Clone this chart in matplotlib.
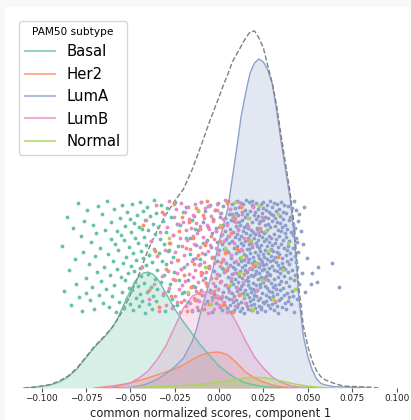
import matplotlib.pyplot as plt
from matplotlib.lines import Line2D
from matplotlib.patches import Rectangle

subtypes = ['Basal', 'Her2', 'LumA', 'LumB', 'Normal']
colors = ['#66c2a5', '#fc8d62', '#8da0cb', '#e78ac3', '#a6d854']

# ---- density curves (y axis is hidden, arbitrary units) ----
basal_kx = [-0.110, -0.105, -0.100, -0.095, -0.090, -0.085, -0.080, -0.075, -0.070, -0.065,
            -0.0625, -0.060, -0.0575, -0.055, -0.0525, -0.050, -0.0475, -0.045, -0.0425, -0.040,
            -0.0375, -0.035, -0.0325, -0.030, -0.0275, -0.025, -0.020, -0.015, -0.010, -0.005,
            0.000, 0.005, 0.010, 0.015, 0.020, 0.025, 0.030, 0.035, 0.040]
basal_kd = [0, 0.5, 1.5, 3, 6, 11, 19, 30, 41, 50,
            55, 61, 68, 78, 88, 97, 106, 112, 115, 116,
            114, 110, 103, 95, 87, 79, 66, 54, 42, 32,
            22, 15, 9, 5, 3, 1.5, 0.7, 0.2, 0]

her2_kx = [-0.070, -0.065, -0.060, -0.055, -0.050, -0.045, -0.040, -0.035, -0.030, -0.025,
           -0.020, -0.015, -0.010, -0.005, 0.000, 0.005, 0.010, 0.015, 0.020, 0.025,
           0.030, 0.035, 0.040, 0.045]
her2_kd = [0, 1, 2, 3.5, 5, 7.5, 10, 13, 16, 19,
           23, 28.5, 33, 35.5, 36, 33, 25, 16, 10, 6,
           3, 1.3, 0.5, 0]

luma_kx = [-0.060, -0.055, -0.050, -0.045, -0.040, -0.035, -0.030, -0.025, -0.020, -0.015,
           -0.0125, -0.010, -0.0075, -0.005, -0.0025, 0.000, 0.0025, 0.005, 0.0075, 0.010,
           0.0125, 0.015, 0.0175, 0.020, 0.0225, 0.025, 0.0275, 0.030, 0.0325, 0.035,
           0.0375, 0.040, 0.0425, 0.045, 0.0475, 0.050, 0.0525, 0.055, 0.0575, 0.060,
           0.065, 0.070, 0.075, 0.080, 0.085]
luma_kd = [0, 0.3, 0.8, 2, 4.5, 8.5, 14, 21, 30, 47,
           60, 78, 93, 108, 126, 146, 163, 180, 210, 240,
           272, 295, 315, 325, 329, 326, 318, 304, 277, 246,
           218, 190, 150, 90, 52, 32, 18, 9, 4.5, 3,
           1.3, 1, 0.7, 0.3, 0]

lumb_kx = [-0.070, -0.065, -0.060, -0.055, -0.050, -0.045, -0.040, -0.035, -0.030, -0.025,
           -0.020, -0.015, -0.010, -0.005, 0.000, 0.005, 0.010, 0.015, 0.020, 0.025,
           0.030, 0.035, 0.040, 0.045, 0.050, 0.055]
lumb_kd = [0, 0.5, 1, 2.5, 5, 10, 17, 28, 42, 61,
           80, 92, 96, 96, 92, 80, 65, 47, 31, 20,
           11, 5.5, 2.5, 1, 0.3, 0]

normal_kx = [-0.055, -0.050, -0.045, -0.040, -0.035, -0.030, -0.025, -0.020, -0.015, -0.010,
             -0.005, 0.000, 0.005, 0.010, 0.015, 0.020, 0.025, 0.030, 0.035, 0.040,
             0.045, 0.050, 0.055, 0.060, 0.065]
normal_kd = [0, 0.3, 0.6, 1, 1.3, 1.7, 2, 2.5, 3, 3.8,
             4.7, 5.8, 7.2, 8.6, 10, 10.7, 10.3, 9, 7, 5,
             3.2, 1.8, 1, 0.3, 0]

all_kx = [-0.110, -0.105, -0.100, -0.095, -0.090, -0.085, -0.080, -0.075, -0.070, -0.065,
          -0.060, -0.055, -0.050, -0.045, -0.040, -0.035, -0.030, -0.025, -0.020, -0.015,
          -0.010, -0.005, 0.000, 0.0025, 0.005, 0.0075, 0.010, 0.0125, 0.015, 0.0175,
          0.020, 0.0225, 0.025, 0.0275, 0.030, 0.0325, 0.035, 0.0375, 0.040, 0.0425,
          0.045, 0.0475, 0.050, 0.0525, 0.055, 0.0575, 0.060, 0.065, 0.070, 0.075,
          0.080, 0.085, 0.090]
all_kd = [0, 0.8, 2, 3.5, 7, 12, 20, 31, 42, 51,
          61, 75, 93, 114, 138, 157, 173, 187, 199, 219,
          243, 268, 291, 303, 314, 326, 334, 342, 350, 356,
          357, 350, 340, 322, 305, 282, 252, 224, 196, 160,
          100, 62, 42, 27, 17, 11, 8, 4.5, 2, 1.5,
          1.2, 0.8, 0]

# ---- samples: score (x) and vertical jitter (y) ----
basal_x = [-0.0887, -0.0872, -0.0856,
           -0.0846, -0.0835, -0.0823, -0.0814, -0.0803,
           -0.0797, -0.0789, -0.0778, -0.0771, -0.0765, -0.0758, -0.0752,
           -0.0748, -0.0741, -0.0735, -0.0729, -0.0722, -0.0716, -0.0709, -0.0703,
           -0.0698, -0.0693, -0.0687, -0.0681, -0.0674, -0.0668, -0.0663, -0.0657, -0.0652,
           -0.0648, -0.0644, -0.0639, -0.0633, -0.0628, -0.0622, -0.0617, -0.0611, -0.0606, -0.0602,
           -0.0598, -0.0594, -0.0590, -0.0585, -0.0581, -0.0576, -0.0572, -0.0567, -0.0563, -0.0558,
           -0.0554, -0.0551,
           -0.0548, -0.0545, -0.0541, -0.0538, -0.0534, -0.0531, -0.0527, -0.0524, -0.0520, -0.0517,
           -0.0513, -0.0510, -0.0507, -0.0504, -0.0501,
           -0.0498, -0.0495, -0.0492, -0.0489, -0.0486, -0.0483, -0.0480, -0.0477, -0.0474, -0.0471,
           -0.0468, -0.0465, -0.0462, -0.0459, -0.0456, -0.0453, -0.0451,
           -0.0448, -0.0445, -0.0443, -0.0440, -0.0437, -0.0434, -0.0432, -0.0429, -0.0426, -0.0423,
           -0.0420, -0.0418, -0.0415, -0.0412, -0.0409, -0.0406, -0.0404, -0.0401,
           -0.0398, -0.0395, -0.0392, -0.0389, -0.0386, -0.0383, -0.0380, -0.0377, -0.0374, -0.0371,
           -0.0368, -0.0365, -0.0362, -0.0359, -0.0356, -0.0353, -0.0351,
           -0.0347, -0.0343, -0.0340, -0.0336, -0.0333, -0.0329, -0.0326, -0.0322, -0.0318, -0.0315,
           -0.0311, -0.0308, -0.0304, -0.0301,
           -0.0297, -0.0292, -0.0287, -0.0282, -0.0277, -0.0272, -0.0267, -0.0262, -0.0257, -0.0252,
           -0.0246, -0.0239, -0.0232, -0.0225, -0.0218, -0.0211, -0.0204,
           -0.0195, -0.0185, -0.0175, -0.0165, -0.0155,
           -0.0146, -0.0134, -0.0121, -0.0108,
           -0.0093, -0.0077, -0.0061,
           -0.0042, -0.0015,
           0.0024, 0.0071]
basal_y = [142, 97, 171, 118, 83, 160, 129, 104, 185, 91,
           152, 77, 136, 167, 110, 95, 178, 124, 88, 146,
           101, 163, 79, 132, 155, 116, 182, 93, 140, 107,
           174, 85, 121, 158, 99, 187, 134, 81, 113, 149,
           166, 92, 127, 179, 103, 144, 76, 157, 119, 138,
           86, 170, 111, 153, 96, 183, 125, 80, 148, 108,
           162, 131, 89, 176, 115, 100, 141, 169, 84, 122,
           156, 98, 184, 135, 78, 117, 165, 106, 150, 90,
           128, 173, 102, 145, 82, 161, 120, 186, 94, 137,
           112, 159, 87, 130, 177, 105, 151, 75, 168, 123,
           143, 96, 181, 114, 158, 84, 133, 172, 101, 147,
           79, 126, 164, 92, 139, 188, 109, 154, 87, 175,
           118, 99, 161, 135, 81, 149, 106, 183, 127, 93,
           167, 113, 144, 77, 156, 124, 180, 97, 138, 104,
           171, 89, 131, 153, 116, 186, 83, 142, 108, 163,
           95, 176, 121, 150, 86, 134, 168, 102, 159, 78,
           129, 145, 110, 182, 91, 157, 119, 174]

her2_x = [-0.0428, -0.0392, -0.0361,
          -0.0338, -0.0319, -0.0301, -0.0284, -0.0268, -0.0253,
          -0.0246, -0.0236, -0.0226, -0.0216, -0.0207, -0.0198, -0.0188, -0.0178, -0.0168, -0.0157,
          -0.0148, -0.0141, -0.0135, -0.0128, -0.0121, -0.0114, -0.0108, -0.0101, -0.0094, -0.0088,
          -0.0081, -0.0075, -0.0068, -0.0061, -0.0054,
          -0.0047, -0.0040, -0.0033, -0.0026, -0.0019, -0.0012, -0.0005, 0.0003, 0.0010, 0.0017,
          0.0024, 0.0031, 0.0038, 0.0045,
          0.0054, 0.0066, 0.0078, 0.0089, 0.0101, 0.0113, 0.0126, 0.0139,
          0.0163, 0.0192, 0.0231, 0.0332]
her2_y = [163, 98, 137, 81, 176, 119, 145, 92, 184, 108,
          128, 157, 86, 171, 113, 140, 77, 166, 101, 150,
          124, 88, 180, 133, 95, 159, 116, 79, 173, 143,
          105, 187, 121, 84, 152, 130, 168, 97, 110, 178,
          90, 147, 126, 161, 83, 135, 118, 185, 102, 155,
          76, 170, 139, 93, 181, 114, 148, 123, 160, 131]

luma_x = [-0.0285, -0.0262, -0.0238, -0.0214,
          -0.0196, -0.0186, -0.0175, -0.0165, -0.0154,
          -0.0147, -0.0141, -0.0135, -0.0128, -0.0122, -0.0116, -0.0109, -0.0103,
          -0.0098, -0.0094, -0.0090, -0.0086, -0.0081, -0.0077, -0.0073, -0.0069, -0.0065, -0.0060,
          -0.0056, -0.0052,
          -0.0049, -0.0046, -0.0043, -0.0040, -0.0038, -0.0035, -0.0032, -0.0029, -0.0026, -0.0024,
          -0.0021, -0.0018, -0.0015, -0.0012, -0.0010, -0.0007, -0.0004, -0.0001,
          0.0001, 0.0003, 0.0005, 0.0007, 0.0009, 0.0010, 0.0012, 0.0014, 0.0016, 0.0018,
          0.0020, 0.0021, 0.0023, 0.0025, 0.0027, 0.0029, 0.0030, 0.0032, 0.0034, 0.0036,
          0.0038, 0.0039, 0.0041, 0.0043, 0.0045, 0.0046, 0.0048, 0.0049,
          0.0051, 0.0052, 0.0053, 0.0055, 0.0056, 0.0057, 0.0058, 0.0060, 0.0061, 0.0062,
          0.0063, 0.0065, 0.0066, 0.0067, 0.0068, 0.0070, 0.0071, 0.0072, 0.0073, 0.0075,
          0.0076, 0.0077, 0.0078, 0.0080, 0.0081, 0.0082, 0.0083, 0.0085, 0.0086, 0.0087,
          0.0088, 0.0090, 0.0091, 0.0092, 0.0093, 0.0095, 0.0096, 0.0097, 0.0098, 0.0099,
          0.0100, 0.0101, 0.0102, 0.0103, 0.0104, 0.0105, 0.0106, 0.0107, 0.0108, 0.0109,
          0.0110, 0.0111, 0.0112, 0.0113, 0.0114, 0.0115, 0.0116, 0.0117, 0.0118, 0.0119,
          0.0120, 0.0121, 0.0122, 0.0123, 0.0124, 0.0125, 0.0126, 0.0127, 0.0128, 0.0129,
          0.0130, 0.0131, 0.0132, 0.0133, 0.0134, 0.0135, 0.0136, 0.0137, 0.0138, 0.0139,
          0.0140, 0.0141, 0.0142, 0.0143, 0.0144, 0.0145, 0.0146, 0.0147, 0.0148, 0.0149,
          0.0150, 0.0151, 0.0152, 0.0153, 0.0154, 0.0155, 0.0156, 0.0157, 0.0158, 0.0159,
          0.0160, 0.0161, 0.0162, 0.0163, 0.0164, 0.0165, 0.0166, 0.0167, 0.0168, 0.0169,
          0.0170, 0.0171, 0.0172, 0.0173, 0.0174, 0.0175, 0.0176, 0.0177, 0.0178, 0.0179,
          0.0180, 0.0181, 0.0182, 0.0183, 0.0184, 0.0185, 0.0186, 0.0187, 0.0188, 0.0189,
          0.0190, 0.0191, 0.0192, 0.0193, 0.0194, 0.0195, 0.0196, 0.0197, 0.0198, 0.0199,
          0.0153, 0.0162, 0.0171, 0.0184, 0.0193,
          0.0200, 0.0201, 0.0202, 0.0203, 0.0204, 0.0205, 0.0206, 0.0207, 0.0208, 0.0209,
          0.0210, 0.0211, 0.0212, 0.0213, 0.0214, 0.0215, 0.0216, 0.0217, 0.0218, 0.0219,
          0.0220, 0.0221, 0.0222, 0.0223, 0.0224, 0.0225, 0.0226, 0.0227, 0.0228, 0.0229,
          0.0230, 0.0231, 0.0232, 0.0233, 0.0234, 0.0235, 0.0236, 0.0237, 0.0238, 0.0239,
          0.0240, 0.0241, 0.0242, 0.0243, 0.0244, 0.0245, 0.0246, 0.0247, 0.0248, 0.0249,
          0.0204, 0.0216, 0.0225, 0.0237, 0.0246,
          0.0250, 0.0251, 0.0252, 0.0253, 0.0254, 0.0255, 0.0256, 0.0257, 0.0258, 0.0259,
          0.0260, 0.0261, 0.0262, 0.0263, 0.0264, 0.0265, 0.0266, 0.0267, 0.0268, 0.0269,
          0.0270, 0.0271, 0.0272, 0.0273, 0.0274, 0.0275, 0.0276, 0.0277, 0.0278, 0.0279,
          0.0280, 0.0281, 0.0282, 0.0283, 0.0284, 0.0285, 0.0286, 0.0287, 0.0288, 0.0289,
          0.0290, 0.0291, 0.0292, 0.0293, 0.0294, 0.0295, 0.0296, 0.0297, 0.0298, 0.0299,
          0.0258, 0.0281,
          0.0300, 0.0301, 0.0302, 0.0303, 0.0304, 0.0305, 0.0306, 0.0308, 0.0309,
          0.0310, 0.0311, 0.0312, 0.0313, 0.0314, 0.0315, 0.0316, 0.0317, 0.0318,
          0.0320, 0.0321, 0.0322, 0.0323, 0.0324, 0.0325, 0.0326, 0.0327, 0.0328, 0.0329,
          0.0330, 0.0331, 0.0332, 0.0334, 0.0335, 0.0336, 0.0337, 0.0338, 0.0339,
          0.0340, 0.0341, 0.0342, 0.0343, 0.0344, 0.0345, 0.0347, 0.0348, 0.0349,
          0.0350, 0.0351, 0.0353, 0.0354, 0.0355, 0.0357, 0.0358, 0.0359,
          0.0360, 0.0362, 0.0363, 0.0365, 0.0366, 0.0367, 0.0368,
          0.0370, 0.0371, 0.0372, 0.0374, 0.0375, 0.0376, 0.0378, 0.0379,
          0.0380, 0.0381, 0.0383, 0.0384, 0.0385, 0.0387, 0.0388, 0.0389,
          0.0390, 0.0392, 0.0393, 0.0394, 0.0396, 0.0397, 0.0399,
          0.0400, 0.0402, 0.0404, 0.0405, 0.0407, 0.0409, 0.0410, 0.0412, 0.0414, 0.0416,
          0.0417, 0.0419, 0.0421, 0.0423, 0.0424, 0.0426, 0.0428, 0.0429, 0.0431, 0.0433,
          0.0435, 0.0436, 0.0438, 0.0440, 0.0442, 0.0444, 0.0446, 0.0448,
          0.0452, 0.0456, 0.0461, 0.0466, 0.0471, 0.0476, 0.0485, 0.0494,
          0.0517, 0.0521, 0.0553, 0.0560, 0.0634, 0.0677]
luma_y = [137, 82, 164, 119, 96, 181, 108, 150, 77, 129,
          172, 101, 143, 88, 158, 124, 186, 93, 115, 166,
          79, 134, 177, 105, 148, 87, 161, 122, 98, 183,
          141, 110, 155, 76, 131, 169, 94, 117, 178, 102,
          160, 85, 127, 146, 99, 185, 113, 138, 81, 171,
          106, 153, 90, 175, 120, 144, 78, 163, 128, 96,
          182, 116, 139, 84, 157, 103, 170, 125, 91, 149,
          118, 165, 80, 136, 187, 100, 152, 111, 174, 89,
          145, 97, 179, 123, 83, 159, 133, 107, 168, 76,
          130, 184, 114, 95, 147, 172, 86, 121, 156, 104,
          92, 167, 140, 78, 126, 180, 109, 151, 119, 162,
          175, 101, 135, 88, 154, 115, 187, 97, 142, 81,
          124, 159, 106, 173, 84, 137, 166, 112, 149, 93,
          181, 77, 130, 117, 163, 99, 145, 185, 102, 127,
          86, 152, 176, 110, 138, 80, 168, 121, 95, 157,
          143, 104, 184, 128, 90, 161, 114, 134, 75, 171,
          118, 147, 98, 178, 123, 85, 155, 108, 188, 132,
          94, 164, 139, 82, 116, 174, 103, 150, 126, 79,
          160, 111, 186, 91, 144, 129, 170, 87, 120, 153,
          100, 177, 135, 83, 158, 113, 146, 96, 183, 125,
          141, 78, 166, 119, 105, 182, 131, 89, 156, 112,
          173, 93, 127, 150, 84, 162, 107, 139, 187, 99,
          122, 154, 80, 176, 114, 136, 92, 169, 145, 103,
          185, 117, 142, 76, 159, 125, 98, 172, 109, 133,
          88, 148, 179, 115, 130, 82, 165, 121, 153, 101,
          167, 104, 137, 90, 184, 128, 111, 157, 79, 143,
          126, 175, 95, 151, 118, 86, 168, 134, 106, 180,
          97, 160, 140, 81, 123, 186, 110, 147, 131, 85,
          155, 119, 171, 102, 138, 77, 163, 93, 178, 124,
          112, 149, 87, 183, 129, 100, 158, 116, 142, 170,
          83, 135, 164, 108, 152, 91, 176, 120, 97, 146,
          187, 113, 127, 80, 161, 139, 105, 174, 89, 132,
          150, 96, 181, 122, 84, 156, 114, 143, 167, 101,
          128, 173, 92, 137, 109, 185, 78, 154, 118, 162,
          103, 145, 170, 86, 131, 99, 177, 126, 149, 82,
          166, 117, 136, 94, 184, 111, 158, 123, 75, 141,
          134, 179, 104, 152, 88, 165, 120, 98, 172, 115,
          90, 157, 144, 107, 186, 130, 81, 161, 125, 148,
          176, 100, 121, 169, 93, 140, 112, 183, 85, 155,
          119, 163, 79, 133, 151, 106, 175, 95, 138, 127,
          159, 87, 182, 116, 142, 102, 168, 124, 91, 147,
          110, 171, 135, 84, 156, 129, 97, 180, 118, 153,
          140, 92, 164, 108, 187, 76, 132, 160, 113, 150,
          126, 178, 99, 146, 121, 89, 167, 136, 104, 174,
          83, 157, 115, 144, 181, 96, 130,
          104, 115, 106, 121, 125, 101]

lumb_x = [-0.0432, -0.0411,
          -0.0394, -0.0381, -0.0367, -0.0354,
          -0.0347, -0.0339, -0.0331, -0.0324, -0.0316, -0.0309, -0.0302,
          -0.0298, -0.0293, -0.0289, -0.0284, -0.0280, -0.0275, -0.0271, -0.0266, -0.0262, -0.0257,
          -0.0253,
          -0.0249, -0.0246, -0.0242, -0.0239, -0.0236, -0.0232, -0.0229, -0.0226, -0.0222, -0.0219,
          -0.0216, -0.0212, -0.0209, -0.0206, -0.0202,
          -0.0199, -0.0196, -0.0193, -0.0191, -0.0188, -0.0185, -0.0182, -0.0179, -0.0177, -0.0174,
          -0.0171, -0.0168, -0.0165, -0.0163, -0.0160, -0.0157, -0.0154, -0.0152,
          -0.0149, -0.0147, -0.0144, -0.0142, -0.0139, -0.0137, -0.0134, -0.0132, -0.0129, -0.0127,
          -0.0124, -0.0122, -0.0119, -0.0117, -0.0114, -0.0112, -0.0109, -0.0107, -0.0104, -0.0102,
          -0.0099, -0.0097, -0.0094, -0.0092, -0.0089, -0.0087, -0.0084, -0.0082, -0.0079, -0.0077,
          -0.0074, -0.0072, -0.0069, -0.0067, -0.0064, -0.0062, -0.0059, -0.0057, -0.0054, -0.0052,
          -0.0049, -0.0046, -0.0044, -0.0041, -0.0039, -0.0036, -0.0033, -0.0031, -0.0028, -0.0026,
          -0.0023, -0.0020, -0.0018, -0.0015, -0.0013, -0.0010, -0.0007, -0.0005, -0.0002,
          0.0002, 0.0005, 0.0008, 0.0011, 0.0014, 0.0017, 0.0020, 0.0023, 0.0026, 0.0029,
          0.0032, 0.0035, 0.0038, 0.0041, 0.0044, 0.0047,
          0.0051, 0.0055, 0.0059, 0.0062, 0.0066, 0.0070, 0.0074, 0.0078, 0.0082, 0.0085,
          0.0089, 0.0093, 0.0097,
          0.0103, 0.0108, 0.0114, 0.0119, 0.0125, 0.0131, 0.0136, 0.0142, 0.0147,
          0.0154, 0.0162, 0.0170, 0.0178, 0.0186, 0.0194,
          0.0206, 0.0219, 0.0231, 0.0244,
          0.0262, 0.0284,
          0.0318]
lumb_y = [121, 168, 89, 147, 104, 183, 132, 77, 156, 112,
          95, 174, 138, 83, 161, 117, 187, 100, 145, 126,
          80, 153, 109, 171, 92, 136, 179, 115, 86, 164,
          128, 99, 150, 76, 185, 119, 142, 103, 166, 88,
          133, 176, 107, 158, 82, 124, 148, 94, 181, 114,
          169, 85, 139, 101, 160, 127, 78, 173, 111, 152,
          90, 144, 184, 118, 97, 165, 130, 81, 155, 106,
          177, 123, 87, 141, 162, 98, 186, 113, 135, 79,
          151, 108, 170, 93, 126, 180, 84, 146, 116, 163,
          102, 137, 75, 159, 120, 182, 96, 143, 172, 110,
          131, 88, 167, 105, 149, 79, 125, 178, 91, 157,
          140, 114, 184, 99, 134, 161, 83, 122, 175, 107,
          154, 92, 129, 169, 86, 147, 117, 188, 103, 138,
          76, 163, 121, 96, 152, 179, 110, 133, 89, 171,
          115, 145, 82, 166, 127, 100, 158, 186, 94, 139,
          174, 106, 150, 85, 130, 162, 119, 78, 143, 181,
          98, 156, 124, 171, 109, 137, 87]

normal_x = [-0.0281, -0.0176, -0.0118, -0.0079, -0.0043, 0.0004, 0.0031, 0.0062, 0.0088, 0.0112,
            0.0123, 0.0141, 0.0163, 0.0181, 0.0194, 0.0208, 0.0226, 0.0243, 0.0262, 0.0281,
            0.0302, 0.0331, 0.0358, 0.0386, 0.0427]
normal_y = [150, 96, 178, 121, 84, 163, 140, 103, 186, 115,
            131, 92, 170, 148, 79, 125, 182, 108, 157, 137,
            89, 174, 118, 145, 99]

curves = {
    'Basal': (basal_kx, basal_kd),
    'Her2': (her2_kx, her2_kd),
    'LumA': (luma_kx, luma_kd),
    'LumB': (lumb_kx, lumb_kd),
    'Normal': (normal_kx, normal_kd),
}
points = {
    'LumA': (luma_x, luma_y),
    'Basal': (basal_x, basal_y),
    'LumB': (lumb_x, lumb_y),
    'Her2': (her2_x, her2_y),
    'Normal': (normal_x, normal_y),
}
palette = dict(zip(subtypes, colors))

fig = plt.figure(figsize=(4.11, 4.2), dpi=100, facecolor='#f8f8f8')
fig.add_artist(Rectangle((5 / 411, 0), 1, 1 - 7 / 420, transform=fig.transFigure,
                         facecolor='white', edgecolor='none', zorder=-5))
ax = fig.add_axes([14.9 / 411, 32 / 420, 390.5 / 411, 380 / 420])
ax.patch.set_alpha(0)

for name in subtypes:
    kx, kd = curves[name]
    ax.fill_between(kx, kd, color=palette[name], alpha=0.25, lw=0)
    ax.plot(kx, kd, color=palette[name], lw=1)
ax.plot(all_kx, all_kd, color='grey', ls='--', lw=1)

for name, (px, py) in points.items():
    ax.scatter(px, py, s=7.5, color=palette[name], lw=0, zorder=3)

ax.set_xlim(-0.115, 0.105)
ax.set_ylim(0, 380)
ax.set_xticks([-0.1, -0.075, -0.05, -0.025, 0, 0.025, 0.05, 0.075, 0.1])
ax.set_yticks([])
for s in ax.spines.values():
    s.set_visible(False)
ax.tick_params(axis='x', labelsize=6.4, length=3, color='#555555', labelcolor='#222222', pad=1.5)
ax.set_xlabel('common normalized scores, component 1', fontsize=8.3, color='#222222', labelpad=2.5)

handles = [Line2D([], [], color=c, lw=1.5, alpha=0.7) for c in colors]
ax.legend(handles, subtypes, title='PAM50 subtype', loc='upper left',
          bbox_to_anchor=(19 / 411, 1 - 21 / 420), bbox_transform=fig.transFigure,
          borderaxespad=0, fontsize=10.7, title_fontsize=7.6)

fig.savefig('out.png', dpi=100, facecolor=fig.get_facecolor())
